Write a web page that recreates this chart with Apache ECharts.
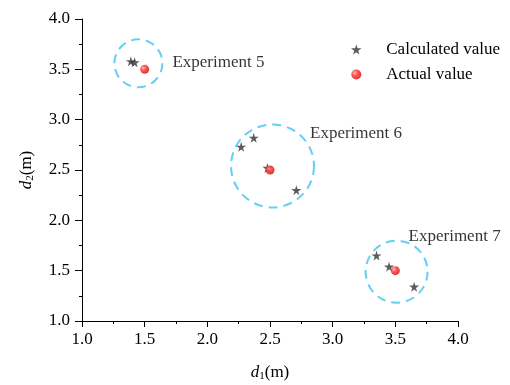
<!DOCTYPE html>
<html>
<head>
<meta charset="utf-8">
<script src="https://cdn.jsdelivr.net/npm/echarts@6/dist/echarts.min.js"></script>
<style>
  html, body { margin: 0; padding: 0; background: #fff; }
  #chart { width: 510px; height: 385px; }
</style>
</head>
<body>
<div id="chart"></div>
<script>
// calculated positions (d1, d2)
var calcX = [1.39, 1.42, 2.27, 2.37, 2.48, 2.71, 3.35, 3.45, 3.65];
var calcY = [3.58, 3.57, 2.73, 2.82, 2.52, 2.30, 1.65, 1.54, 1.34];
// actual positions
var actualX = [1.5, 2.5, 3.5];
var actualY = [3.5, 2.5, 1.5];
// experiment circles
var expNames = ['Experiment 5', 'Experiment 6', 'Experiment 7'];
var circleX = [1.45, 2.52, 3.51];
var circleY = [3.56, 2.54, 1.49];
var xTicks = [1.0, 1.5, 2.0, 2.5, 3.0, 3.5, 4.0];
var yTicks = [1.0, 1.5, 2.0, 2.5, 3.0, 3.5, 4.0];

var font = '"Liberation Serif", "Times New Roman", serif';
var star = 'path://M50,0 L61,35 L98,35 L68,57 L79,91 L50,70 L21,91 L32,57 L2,35 L39,35 Z';

var circleSizes = [48, 83, 62];
var labelPos = [[59, 24], [80, 10], [44, -3]];

var calcData = [];
for (var i = 0; i < calcX.length; i++) calcData.push([calcX[i], calcY[i]]);
var actualData = [];
for (var j = 0; j < actualX.length; j++) actualData.push([actualX[j], actualY[j]]);
var circleData = [];
for (var k = 0; k < expNames.length; k++) {
    circleData.push({
        value: [circleX[k], circleY[k]],
        name: expNames[k],
        symbolSize: circleSizes[k],
        label: { position: labelPos[k] }
    });
}

var nameRich = {
    i: { fontFamily: font, fontSize: 17, fontStyle: 'italic', color: '#000' },
    s: { fontFamily: font, fontSize: 11, color: '#000', verticalAlign: 'bottom', padding: [8, 0, 0, 0] }
};

var myChart = echarts.init(document.getElementById('chart'));
myChart.setOption({
    animation: false,
    textStyle: { fontFamily: font },
    grid: { left: 82, right: 52, top: 19, bottom: 64, outerBoundsMode: 'none', containLabel: false },
    legend: {
        data: ['Calculated value', 'Actual value'],
        orient: 'vertical',
        left: 346,
        top: 36,
        itemGap: 8,
        itemWidth: 30,
        itemHeight: 10,
        textStyle: { fontFamily: font, fontSize: 17, color: '#000', padding: [0, 0, 0, 10] }
    },
    xAxis: {
        type: 'value',
        min: 1.0, max: 4.0, interval: 0.5,
        name: '{i|d}{s|1}(m)',
        nameLocation: 'middle',
        nameGap: 42,
        nameTextStyle: { rich: nameRich, fontFamily: font, fontSize: 17, color: '#000' },
        axisLine: { onZero: false, lineStyle: { color: '#000', width: 1 } },
        axisTick: { inside: false, length: 6, lineStyle: { color: '#000' } },
        minorTick: { show: true, splitNumber: 2, length: 3, lineStyle: { color: '#000' } },
        splitLine: { show: false },
        axisLabel: {
            fontFamily: font, fontSize: 17, color: '#000', margin: 10,
            formatter: function (v) { return xTicks.indexOf(v) >= 0 ? v.toFixed(1) : ''; }
        }
    },
    yAxis: {
        type: 'value',
        min: 1.0, max: 4.0, interval: 0.5,
        name: '{i|d}{s|2}(m)',
        nameLocation: 'middle',
        nameGap: 46,
        nameRotate: 90,
        nameTextStyle: { rich: nameRich, fontFamily: font, fontSize: 17, color: '#000' },
        axisLine: { show: true, onZero: false, lineStyle: { color: '#000', width: 1 } },
        axisTick: { show: true, inside: false, length: 7, lineStyle: { color: '#000' } },
        minorTick: { show: true, splitNumber: 2, length: 3, lineStyle: { color: '#000' } },
        splitLine: { show: false },
        axisLabel: {
            fontFamily: font, fontSize: 17, color: '#000', margin: 12,
            formatter: function (v) { return yTicks.indexOf(v) >= 0 ? v.toFixed(1) : ''; }
        }
    },
    series: [
        {
            name: 'circles',
            type: 'scatter',
            symbol: 'circle',
            data: circleData,
            z: 1,
            silent: true,
            itemStyle: {
                color: 'rgba(0,0,0,0)',
                borderColor: '#3cc4f0',
                borderWidth: 2,
                borderType: [9, 6]
            },
            label: {
                show: true,
                formatter: '{b}',
                fontFamily: font,
                fontSize: 17,
                color: '#000',
                align: 'left',
                verticalAlign: 'middle'
            }
        },
        {
            name: 'Calculated value',
            type: 'scatter',
            symbol: star,
            symbolSize: 10,
            data: calcData,
            z: 3,
            itemStyle: { color: '#333' }
        },
        {
            name: 'Actual value',
            type: 'scatter',
            symbol: 'circle',
            symbolSize: 9,
            data: actualData,
            z: 4,
            itemStyle: {
                color: new echarts.graphic.RadialGradient(0.35, 0.35, 0.7, [
                    { offset: 0, color: '#ffb0b0' },
                    { offset: 0.4, color: '#ff3030' },
                    { offset: 1, color: '#d00000' }
                ])
            }
        }
    ]
});
</script>
</body>
</html>
